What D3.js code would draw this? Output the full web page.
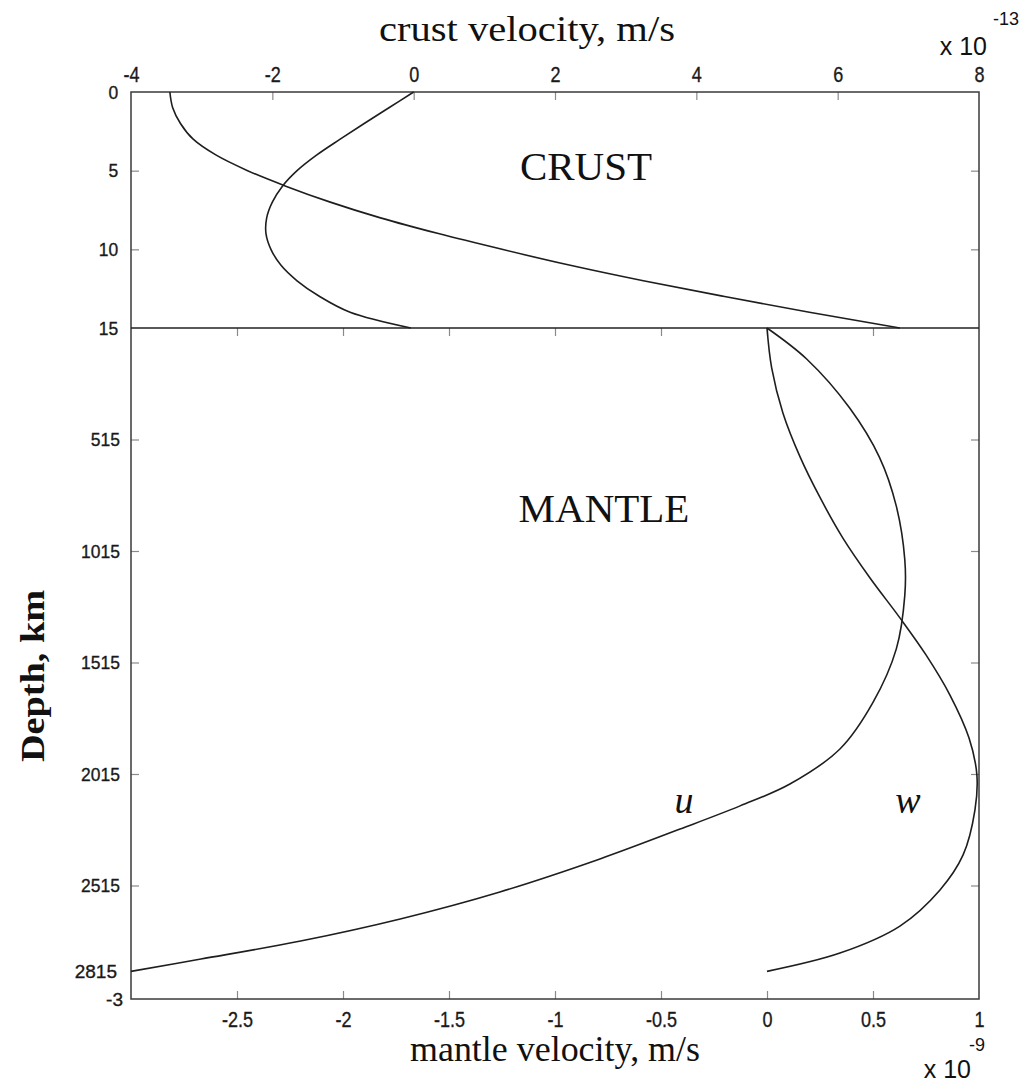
<!DOCTYPE html>
<html>
<head>
<meta charset="utf-8">
<script src="https://cdn.jsdelivr.net/npm/d3@7"></script>
<style>
  html, body { margin: 0; padding: 0; background: #fff; }
  svg { display: block; }
</style>
</head>
<body>
<svg id="chart" width="1026" height="1083"></svg>
<script>
// ---------- data ----------
// crust panel: velocity in units of 1e-13 m/s, depth in km
const crustVelTicks = [-4, -2, 0, 2, 4, 6, 8];
const crustDepthTicks = [0, 5, 10, 15];
const crustDepthA = [0, 1, 2, 3, 4, 5, 6, 7, 8, 9, 10, 11, 12, 13, 14, 15];
const crustVelA   = [-3.45, -3.41, -3.30, -3.12, -2.80, -2.35, -1.80, -1.18, -0.47, 0.35, 1.25, 2.2, 3.25, 4.4, 5.6, 6.88];
const crustDepthB = [0, 1, 2, 3, 4, 5, 6, 7, 8, 9, 10, 11, 12, 13, 14, 15];
const crustVelB   = [0, -0.35, -0.70, -1.04, -1.37, -1.65, -1.86, -2.00, -2.08, -2.09, -2.02, -1.88, -1.65, -1.33, -0.90, -0.04];

// mantle panel: velocity in units of 1e-9 m/s, depth in km
const mantleVelTicks = [-2.5, -2, -1.5, -1, -0.5, 0, 0.5, 1];
const mantleVelFirstLabel = "-3";
const mantleDepthTicks = [515, 1015, 1515, 2015, 2515];
const mantleBottomLabel = "2815";
const mantleDepthU = [15, 154, 374, 594, 814, 1054, 1214, 1454, 1694, 1903, 2060, 2158, 2262, 2396, 2544, 2665, 2764, 2845, 2900];
const mantleVelU   = [0, 0.187, 0.39, 0.53, 0.61, 0.65, 0.65, 0.61, 0.50, 0.344, 0.108, -0.127, -0.41, -0.788, -1.26, -1.73, -2.20, -2.67, -3.0];
const mantleDepthW = [15, 194, 396, 593, 775, 957, 1136, 1315, 1481, 1661, 1854, 2019, 2176, 2378, 2535, 2697, 2818, 2900];
const mantleVelW   = [0, 0.022, 0.075, 0.156, 0.25, 0.358, 0.486, 0.627, 0.75, 0.863, 0.953, 0.99, 0.981, 0.925, 0.816, 0.627, 0.344, 0];

// ---------- layout ----------
const L = 131, R = 979, T = 92, MID = 328, B = 999;
const svg = d3.select("#chart");

const xCrust = d3.scaleLinear().domain([-4, 8]).range([L, R]);
const yCrust = d3.scaleLinear().domain([0, 15]).range([T, MID]);
const xMantle = d3.scaleLinear().domain([-3, 1]).range([L, R]);
const yMantle = d3.scaleLinear().domain([15, 3024]).range([MID, B]);

const tickColor = "#8a8a8a";
const frameColor = "#3a3a3a";
const labelColor = "#1a1a1a";
const sans = "'Liberation Sans', Arial, Helvetica, sans-serif";
const serif = "'Liberation Serif', 'Times New Roman', Times, serif";
const fmt = d => String(d); // plain hyphen minus, as in the reference

function styleText(sel, fontSize) {
  sel.attr("fill", labelColor)
    .attr("stroke", labelColor).attr("stroke-width", 0.35)
    .style("font-family", sans)
    .style("font-size", fontSize + "px");
}
function styleAxis(g, fontSize, condensed) {
  g.select(".domain").remove();
  g.selectAll(".tick line").attr("stroke", tickColor).attr("stroke-width", 1.2);
  styleText(g.selectAll(".tick text"), fontSize);
  if (condensed) g.selectAll(".tick text").attr("transform", "scale(" + condensed + ",1)");
}

// crust top axis
svg.append("g").attr("transform", `translate(0,${T})`)
  .call(d3.axisTop(xCrust).tickValues(crustVelTicks).tickSize(-8).tickPadding(10).tickFormat(fmt))
  .call(g => styleAxis(g, 22, 0.82))
  .call(g => g.selectAll(".tick").filter(d => d === -4 || d === 8).select("line").remove());

// crust left axis
svg.append("g").attr("transform", `translate(${L},0)`)
  .call(d3.axisLeft(yCrust).tickValues(crustDepthTicks).tickSize(-8).tickPadding(14).tickFormat(fmt))
  .call(g => styleAxis(g, 19, 0.92))
  .call(g => g.selectAll(".tick").filter(d => d === 0 || d === 15).select("line").remove());
// crust right ticks
svg.append("g").attr("transform", `translate(${R},0)`)
  .call(d3.axisRight(yCrust).tickValues([5, 10]).tickSize(-8).tickFormat(""))
  .call(g => styleAxis(g, 19));

// mantle top ticks (at the crust/mantle boundary)
svg.append("g").attr("transform", `translate(0,${MID})`)
  .call(d3.axisTop(xMantle).tickValues(mantleVelTicks.filter(d => d !== 1)).tickSize(-8).tickFormat(""))
  .call(g => styleAxis(g, 19));

// mantle bottom axis
svg.append("g").attr("transform", `translate(0,${B})`)
  .call(d3.axisBottom(xMantle).tickValues(mantleVelTicks).tickSize(-8).tickPadding(12).tickFormat(fmt))
  .call(g => styleAxis(g, 22, 0.82))
  .call(g => g.selectAll(".tick").filter(d => d === 1).select("line").remove());
// first mantle velocity label sits left of the corner
svg.append("text")
  .attr("x", xMantle(-3) - 8).attr("y", B).attr("dy", "0.35em")
  .attr("text-anchor", "end")
  .call(s => styleText(s, 19))
  .text(mantleVelFirstLabel);

// mantle left axis
svg.append("g").attr("transform", `translate(${L},0)`)
  .call(d3.axisLeft(yMantle).tickValues(mantleDepthTicks).tickSize(-8).tickPadding(12).tickFormat(fmt))
  .call(g => styleAxis(g, 19, 0.92));
svg.append("text")
  .attr("x", L - 14).attr("y", yMantle(2900)).attr("dy", "0.35em")
  .attr("text-anchor", "end")
  .call(s => styleText(s, 19))
  .text(mantleBottomLabel);
// mantle right ticks
svg.append("g").attr("transform", `translate(${R},0)`)
  .call(d3.axisRight(yMantle).tickValues(mantleDepthTicks).tickSize(-8).tickFormat(""))
  .call(g => styleAxis(g, 19));

// frame + boundary
svg.append("rect").attr("x", L).attr("y", T).attr("width", R - L).attr("height", B - T)
  .attr("fill", "none").attr("stroke", frameColor).attr("stroke-width", 1.5);
svg.append("line").attr("x1", L).attr("x2", R).attr("y1", MID).attr("y2", MID)
  .attr("stroke", "#222").attr("stroke-width", 1.6);

// curves
const curve = d3.curveCatmullRom.alpha(0.5);
function drawCurve(vel, depth, xs, ys) {
  const pts = vel.map((v, i) => [xs(v), ys(depth[i])]);
  svg.append("path")
    .attr("d", d3.line().curve(curve)(pts))
    .attr("fill", "none").attr("stroke", "#1e1e1e").attr("stroke-width", 1.6);
}
drawCurve(crustVelA, crustDepthA, xCrust, yCrust);
drawCurve(crustVelB, crustDepthB, xCrust, yCrust);
drawCurve(mantleVelU, mantleDepthU, xMantle, yMantle);
drawCurve(mantleVelW, mantleDepthW, xMantle, yMantle);

// titles
svg.append("text").attr("x", 527).attr("y", 41).attr("text-anchor", "middle")
  .attr("textLength", 296).attr("lengthAdjust", "spacingAndGlyphs")
  .style("font-family", serif).style("font-size", "35px").attr("fill", "#111")
  .text("crust velocity, m/s");
svg.append("text").attr("x", 555).attr("y", 1061).attr("text-anchor", "middle")
  .attr("textLength", 290).attr("lengthAdjust", "spacingAndGlyphs")
  .style("font-family", serif).style("font-size", "35px").attr("fill", "#111")
  .text("mantle velocity, m/s");
svg.append("text").attr("transform", "translate(44,676) rotate(-90)").attr("text-anchor", "middle")
  .attr("textLength", 172).attr("lengthAdjust", "spacingAndGlyphs")
  .style("font-family", serif).style("font-size", "34px").style("font-weight", "bold").attr("fill", "#111")
  .text("Depth, km");

// exponents
svg.append("text").attr("x", 987).attr("y", 55).attr("text-anchor", "end")
  .style("font-family", sans).style("font-size", "25px").attr("fill", "#111").text("x 10");
svg.append("text").attr("x", 1019).attr("y", 25).attr("text-anchor", "end")
  .style("font-family", sans).style("font-size", "18px").attr("fill", "#111").text("-13");
svg.append("text").attr("x", 971).attr("y", 1078).attr("text-anchor", "end")
  .style("font-family", sans).style("font-size", "25px").attr("fill", "#111").text("x 10");
svg.append("text").attr("x", 985).attr("y", 1051).attr("text-anchor", "end")
  .style("font-family", sans).style("font-size", "18px").attr("fill", "#111").text("-9");

// region labels
svg.append("text").attr("x", 586).attr("y", 180).attr("text-anchor", "middle")
  .style("font-family", serif).style("font-size", "41px").attr("fill", "#111").text("CRUST");
svg.append("text").attr("x", 604).attr("y", 522).attr("text-anchor", "middle")
  .style("font-family", serif).style("font-size", "41px").attr("fill", "#111").text("MANTLE");
svg.append("text").attr("x", 684).attr("y", 813).attr("text-anchor", "middle")
  .style("font-family", serif).style("font-size", "38px").style("font-style", "italic").attr("fill", "#111").text("u");
svg.append("text").attr("x", 908).attr("y", 813).attr("text-anchor", "middle")
  .style("font-family", serif).style("font-size", "38px").style("font-style", "italic").attr("fill", "#111").text("w");
</script>
</body>
</html>
